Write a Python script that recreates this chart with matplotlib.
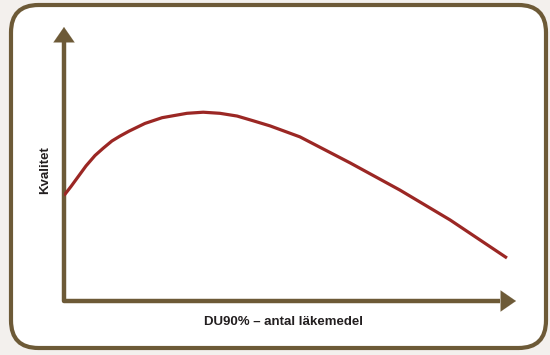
import matplotlib
matplotlib.use("Agg")
import matplotlib.pyplot as plt
from matplotlib.patches import FancyBboxPatch

# Kurvans punkter, skala 0-100 längs axlarna
kvant_x = [0.0, 1.55, 3.1, 4.87, 6.86, 8.63, 10.6, 12.4, 14.4, 17.9, 21.7,
           27.2, 30.8, 34.5, 38.3, 41.8, 45.6, 52.2, 63.3, 74.3, 85.4, 98.0]
kvalitet_y = [38.5, 41.8, 45.3, 49.3, 53.1, 55.7, 58.4, 60.2, 62.0, 64.8,
              66.9, 68.5, 68.9, 68.5, 67.5, 65.8, 63.9, 59.9, 50.4, 40.5,
              29.6, 15.7]

x_label = "DU90% – antal läkemedel"
y_label = "Kvalitet"

BROWN = "#6d5a37"
RED = "#9b2724"
BG = "#f3f0ed"

W, H = 550, 355
fig = plt.figure(figsize=(W / 100, H / 100), dpi=100)
fig.patch.set_facecolor(BG)

# rundad ram
box = FancyBboxPatch((11 / W, 7 / H), 535 / W, 343 / H,
                     boxstyle="round,pad=0,rounding_size=0.05",
                     transform=fig.transFigure, facecolor="white",
                     edgecolor=BROWN, linewidth=3, mutation_aspect=W / H,
                     zorder=-5)
fig.patches.append(box)

ax = fig.add_axes([64 / W, (H - 301) / H, 452 / W, 274 / H])
ax.set_zorder(5)
ax.set_xlim(0, 100)
ax.set_ylim(0, 100)
ax.axis("off")
ax.patch.set_alpha(0)

# axlar med pilar
ax.plot([0, 0, 96.5], [96, 0, 0], color=BROWN, lw=3.2,
        solid_joinstyle="round", solid_capstyle="butt", clip_on=False)
ax.annotate("", xy=(0, 100), xytext=(0, 95), xycoords="data",
            arrowprops=dict(arrowstyle="-|>,head_length=0.55,head_width=0.38",
                            color=BROWN, lw=0.1, mutation_scale=20,
                            shrinkA=0, shrinkB=0), annotation_clip=False)
ax.annotate("", xy=(100, 0), xytext=(96, 0), xycoords="data",
            arrowprops=dict(arrowstyle="-|>,head_length=0.55,head_width=0.38",
                            color=BROWN, lw=0.1, mutation_scale=20,
                            shrinkA=0, shrinkB=0), annotation_clip=False)

ax.plot(kvant_x, kvalitet_y, color=RED, lw=2.3, solid_capstyle="butt",
        solid_joinstyle="round")

fig.text(284 / W, 1 - 322 / H, x_label, ha="center", va="center",
         fontsize=9.5, fontweight="bold", family="Liberation Sans",
         color="#231f20")
fig.text(45 / W, 1 - 170 / H, y_label, ha="center", va="center",
         rotation=90, fontsize=9.5, fontweight="bold",
         family="Liberation Sans", color="#231f20")

fig.savefig("out.png", dpi=100, facecolor=BG)
